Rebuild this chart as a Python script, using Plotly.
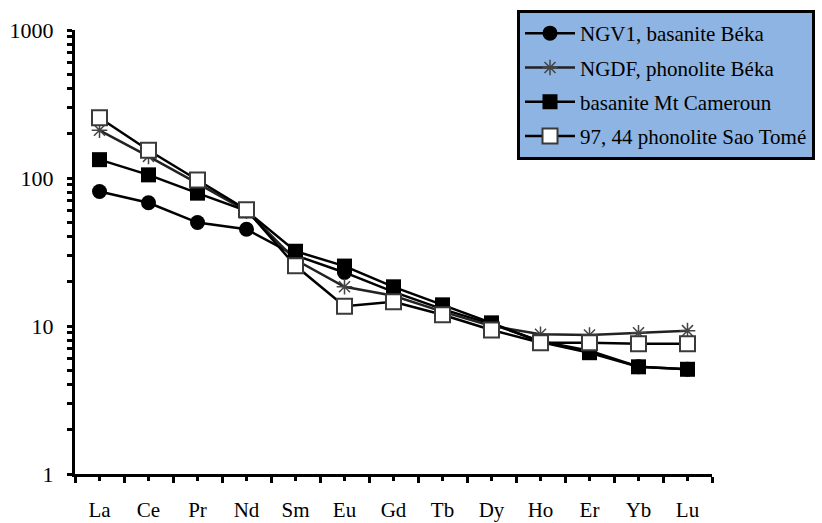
import plotly.graph_objects as go

elements = ["La", "Ce", "Pr", "Nd", "Sm", "Eu", "Gd", "Tb", "Dy", "Ho", "Er", "Yb", "Lu"]
positions = list(range(1, len(elements) + 1))

ngv1 = [81, 68, 50, 45, 30, 23, 17, 13, 10.3, 7.9, 6.8, 5.3, 5.1]
ngdf = [210, 140, 92, 60, 28, 18.4, 16, 12.5, 10, 8.8, 8.7, 9.0, 9.3]
mt_cam = [133, 105, 79, 60, 32, 25.4, 18.4, 13.9, 10.5, 7.8, 6.6, 5.3, 5.1]
sao_tome = [255, 154, 97, 61, 25.5, 13.6, 14.6, 11.9, 9.4, 7.7, 7.7, 7.6, 7.6]

names = ["NGV1, basanite Béka", "NGDF, phonolite Béka", "basanite Mt Cameroun", "97, 44 phonolite Sao Tomé"]

y_ticks = [m * 10 ** e for e in range(0, 3) for m in range(1, 10)] + [1000]
y_text = [str(v) if v in (1, 10, 100, 1000) else "" for v in y_ticks]
x_minor = [p + 0.5 for p in range(0, len(elements) + 1)]

FONT = "Liberation Serif, Times New Roman, serif"

W, H = 822, 523
ML, MR, MT, MB = 75, 7, 10, 49
plot_w = W - ML - MR
plot_h = H - MT - MB
x_dom_end = (712 - ML) / plot_w
y_dom_end = (plot_h - 20) / plot_h

fig = go.Figure()
fig.add_trace(go.Scatter(x=positions, y=ngv1, name=names[0], legendgroup="a", mode="lines+markers",
                         line=dict(color="black", width=2.5),
                         marker=dict(symbol="circle", size=15, color="black")))
fig.add_trace(go.Scatter(x=positions, y=ngdf, name=names[1], legendgroup="b", mode="lines+markers",
                         line=dict(color="#222", width=2.5),
                         marker=dict(symbol="asterisk-open", size=13, color="#444", line=dict(color="#444", width=1.5))))
fig.add_trace(go.Scatter(x=positions, y=mt_cam, name=names[2], legendgroup="c", mode="lines+markers",
                         line=dict(color="black", width=2.5),
                         marker=dict(symbol="square", size=15, color="black")))
fig.add_trace(go.Scatter(x=positions, y=sao_tome, name=names[3], legendgroup="d", mode="lines+markers",
                         line=dict(color="black", width=2.5),
                         marker=dict(symbol="square", size=15, color="white", line=dict(color="#3a3a3a", width=2))))

common_y = dict(type="log", range=[0, 3], tickvals=y_ticks, showgrid=False, zeroline=False,
                domain=[0, y_dom_end])
common_x = dict(range=[0.5, 13.5], showgrid=False, zeroline=False, domain=[0, x_dom_end])

fig.update_layout(
    width=W, height=H, autosize=False,
    margin=dict(l=ML, r=MR, t=MT, b=MB, autoexpand=False),
    plot_bgcolor="white", paper_bgcolor="white",
    font=dict(family=FONT, size=20, color="black"),
    xaxis=dict(**common_x, tickmode="array", tickvals=positions, ticktext=elements,
               ticks="outside", ticklen=4, tickwidth=2.5, tickcolor="black",
               showline=True, linecolor="black", linewidth=3,
               ticklabelstandoff=11,
               minor=dict(tickvals=x_minor, ticks="outside", ticklen=6, tickwidth=2.5, tickcolor="black"),
               tickfont=dict(family=FONT, size=21)),
    xaxis2=dict(range=[0.5, 13.5], showgrid=False, zeroline=False,
                overlaying="x", anchor="y", side="bottom", tickmode="array", tickvals=positions,
                ticktext=["" for _ in elements], ticks="inside", ticklen=4, tickwidth=2.5, tickcolor="black",
                showline=False,
                minor=dict(tickvals=x_minor, ticks="inside", ticklen=6, tickwidth=2.5, tickcolor="black")),
    yaxis=dict(**common_y, ticktext=y_text, tickmode="array",
               ticks="outside", ticklen=5, tickwidth=2.5, tickcolor="black",
               showline=True, linecolor="black", linewidth=3,
               ticklabelstandoff=9,
               tickfont=dict(family=FONT, size=22)),
    yaxis2=dict(type="log", range=[0, 3], tickvals=y_ticks, showgrid=False, zeroline=False,
                overlaying="y", anchor="x", side="left", tickmode="array",
                ticktext=["" for _ in y_ticks], ticks="inside", ticklen=5, tickwidth=2.5, tickcolor="black",
                showline=False),
    legend=dict(x=(517 - ML) / plot_w, y=1.0,
                xanchor="left", yanchor="top",
                bgcolor="#8DB4E2", bordercolor="black", borderwidth=3,
                font=dict(family=FONT, size=21, color="black"),
                tracegroupgap=4, itemwidth=50),
    showlegend=True,
)

fig.write_html("out.html")
